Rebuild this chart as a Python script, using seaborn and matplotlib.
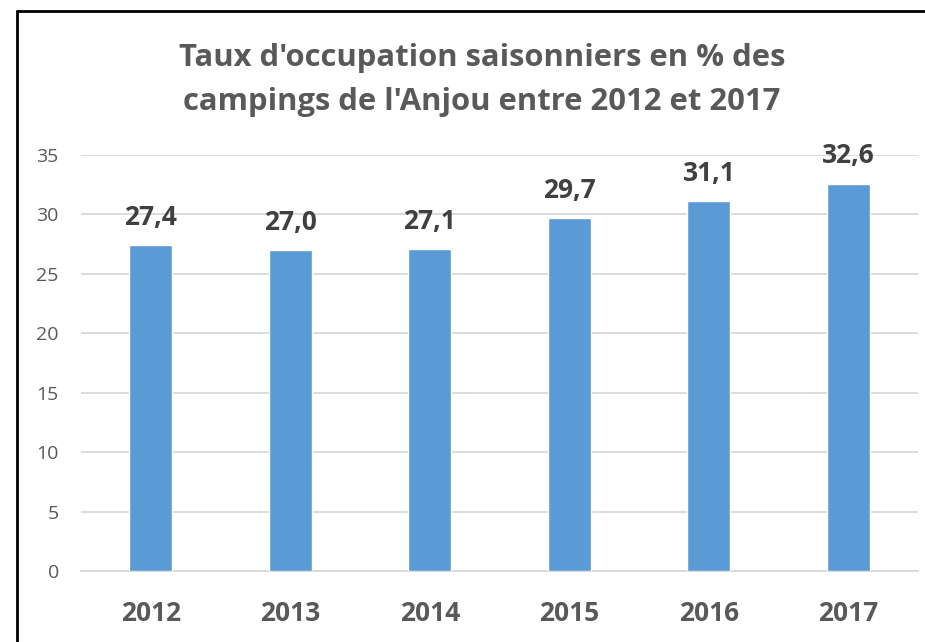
import matplotlib
matplotlib.use("Agg")
import matplotlib.pyplot as plt
import seaborn as sns
import pandas as pd

# Data
years = ["2012", "2013", "2014", "2015", "2016", "2017"]
taux = [27.4, 27.0, 27.1, 29.7, 31.1, 32.6]
yticks = [0, 5, 10, 15, 20, 25, 30, 35]
title_lines = ["Taux d'occupation saisonniers en % des",
               "campings de l'Anjou entre 2012 et 2017"]

df = pd.DataFrame({"annee": years, "taux": taux})

sns.set_style("white")
plt.rcParams["font.family"] = ["Open Sans", "DejaVu Sans"]

fig = plt.figure(figsize=(9.25, 6.42), dpi=100)
ax = fig.add_axes([0.0876, 0.1106, 0.905, 0.648])

sns.barplot(data=df, x="annee", y="taux", color="#5B9BD5", width=0.31,
            saturation=1, ax=ax, zorder=3)

ax.set_ylim(0, 35)
ax.set_yticks(yticks)
ax.set_xlim(-0.5, len(years) - 0.5)
ax.yaxis.grid(True, color="#D9D9D9", linewidth=1.3, zorder=0)
ax.set_axisbelow(True)
for s in ["top", "right", "left"]:
    ax.spines[s].set_visible(False)
ax.spines["bottom"].set_color("#D9D9D9")
ax.spines["bottom"].set_linewidth(1.3)
ax.tick_params(axis="both", length=0)
ax.tick_params(axis="y", labelsize=14, labelcolor="#595959", pad=16)
ax.tick_params(axis="x", labelsize=19, labelcolor="#595959", pad=21)
for lab in ax.get_xticklabels():
    lab.set_fontweight("bold")
ax.set_xlabel("")
ax.set_ylabel("")

# value labels
for i, v in enumerate(taux):
    ax.text(i, v + 1.2, f"{v:.1f}".replace(".", ","), ha="center", va="bottom",
            fontsize=19, fontweight="bold", color="#404040")

# title, two lines
for line, ypos in zip(title_lines, [0.909, 0.841]):
    fig.text(0.521, ypos, line, ha="center", va="center", fontsize=22.3,
             fontweight="bold", color="#595959")

# chart border (top and left visible)
fig.add_artist(plt.Line2D([17 / 925, 17 / 925], [-0.1, 1 - 11 / 642],
                          transform=fig.transFigure, color="black", linewidth=2))
fig.add_artist(plt.Line2D([17 / 925, 1.1], [1 - 11 / 642, 1 - 11 / 642],
                          transform=fig.transFigure, color="black", linewidth=2))

fig.savefig("out.png", dpi=100)
